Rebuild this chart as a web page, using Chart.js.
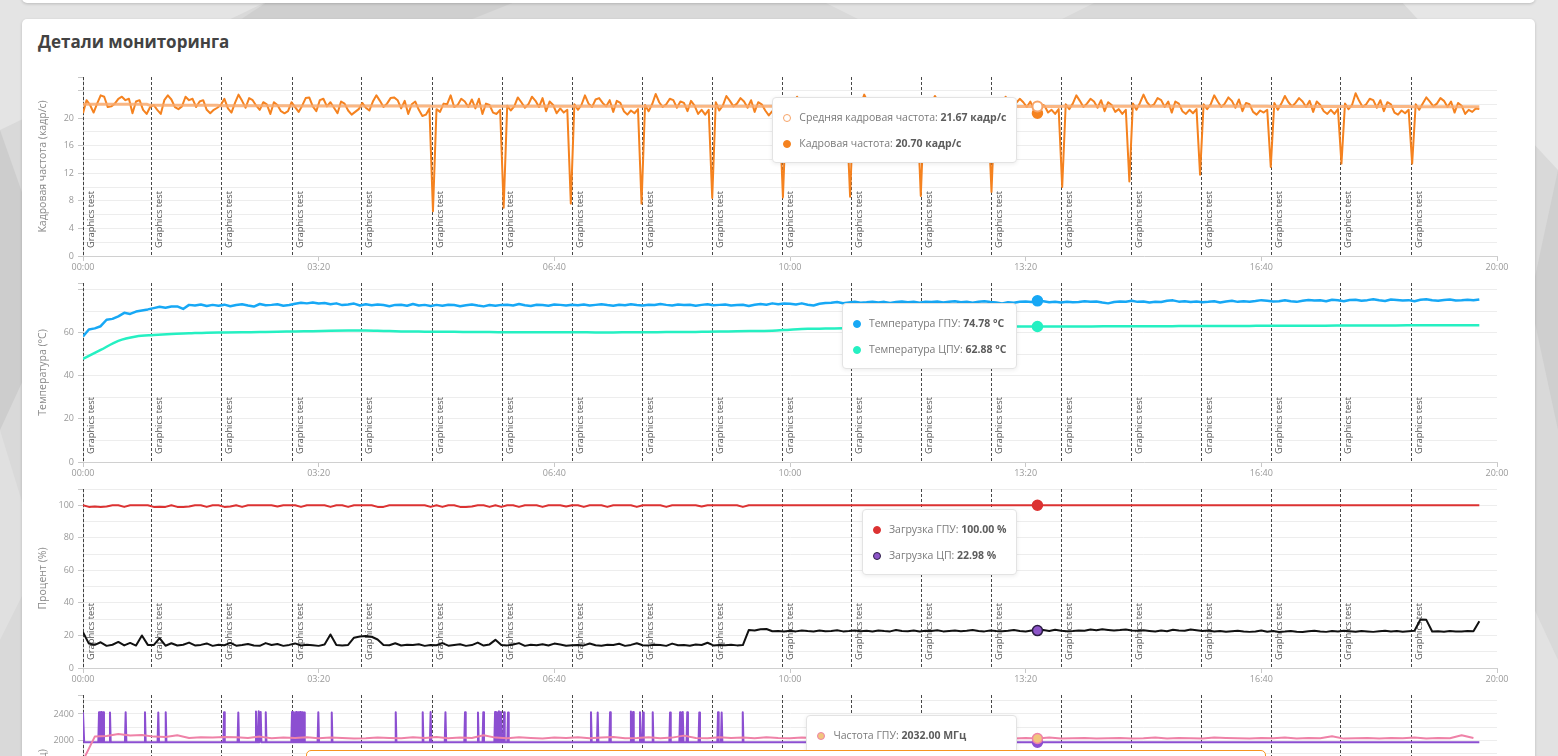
<!DOCTYPE html>
<html lang="ru">
<head>
<meta charset="utf-8">
<title>Детали мониторинга</title>
<script src="https://cdn.jsdelivr.net/npm/chart.js@4.4.1/dist/chart.umd.min.js"></script>
<style>
  html, body { margin: 0; padding: 0; width: 1558px; height: 756px; overflow: hidden; }
  body { position: relative; background: #d9d9d9; font-family: "Open Sans", sans-serif; }
  #bg { position: absolute; left: 0; top: 0; }
  .top-card { position: absolute; left: 22px; top: -20px; width: 1513px; height: 23px; background: #fff;
    border-radius: 0 0 5px 5px; box-shadow: 0 1px 3px rgba(0,0,0,0.18); }
  .card { position: absolute; left: 22px; top: 19px; width: 1513px; height: 900px; background: #fff;
    border-radius: 5px; box-shadow: 0 1px 3px rgba(0,0,0,0.18); }
  .card h2 { position: absolute; left: 16px; top: 11px; margin: 0; font-size: 17px; font-weight: 700; color: #424242; }
  .chart-box { position: absolute; left: 0; width: 1513px; height: 207px; }
  .tip { position: absolute; background: #fff; border: 1px solid #e3e3e3; border-radius: 4px;
    box-shadow: 0 1px 4px rgba(0,0,0,0.08); padding: 6px 10px 6px 10px; font-size: 10.5px; color: #7a7a7a;
    white-space: nowrap; pointer-events: none; }
  .tip .row { height: 26px; line-height: 26px; }
  .tip .dot { display: inline-block; width: 8px; height: 8px; border-radius: 50%; margin-right: 8px;
    vertical-align: -1px; box-sizing: border-box; }
  .tip b { color: #5c5c5c; }
  .notice { position: absolute; left: 306px; top: 750px; width: 958px; height: 40px; background: #fff;
    border: 1px solid #f7931e; border-radius: 5px; }
</style>
</head>
<body>
<svg id="bg" width="1558" height="756">
  <rect width="1558" height="756" fill="#d9d9d9"/>
  <polygon points="0,0 270,0 0,130" fill="#e4e4e4"/>
  <polygon points="270,0 520,0 470,20 240,20" fill="#cfcfcf"/>
  <polygon points="820,0 1100,0 1060,20 860,20" fill="#e2e2e2"/>
  <polygon points="0,130 60,300 0,430" fill="#cdcdcd"/>
  <polygon points="0,430 40,560 0,640" fill="#e0e0e0"/>
  <polygon points="1400,0 1558,0 1558,170" fill="#e6e6e6"/>
  <polygon points="1558,170 1530,300 1558,430" fill="#cfcfcf"/>
  <polygon points="1530,600 1558,660 1558,756 1530,756" fill="#e2e2e2"/>
</svg>
<div class="top-card"></div>
<div class="card">
  <h2>Детали мониторинга</h2>
  <div class="chart-box" style="top:48px"><canvas id="fpsChart"></canvas></div>
  <div class="chart-box" style="top:254px"><canvas id="tempChart"></canvas></div>
  <div class="chart-box" style="top:460px"><canvas id="loadChart"></canvas></div>
  <div class="chart-box" style="top:666px"><canvas id="freqChart"></canvas></div>
</div>
<div class="notice"></div>

<script>
// время в минутах от начала записи, шкала 00:00 - 20:00
const HOVER_MIN = 810;
const xTickMinutes = [0, 200, 400, 600, 800, 1000, 1200];
const xTickLabels = ['00:00', '03:20', '06:40', '10:00', '13:20', '16:40', '20:00'];

// начала прогонов теста
const markerTimes = [0, 58, 117, 177, 236, 296, 356, 415, 474, 534, 593, 652, 711, 771, 830, 889, 949, 1008, 1067, 1127];
const markerLabel = 'Graphics test';

// кадровая частота, шаг 3 мин (одна строка = один прогон)
const FPS_STEP = 3;
const fpsValues = [
  20.7, 22.6, 21.9, 20.8, 22.1, 23.3, 23.1, 21.6, 21.7, 22.1, 22.8, 23.1, 22.6, 22.8, 20.7, 22.4, 22.6, 21.2, 20.6,
  21.6, 21.9, 21.2, 20.6, 22.6, 23.3, 22.7, 21.6, 21.3, 21.7, 23.1, 22.6, 22.8, 21.6, 22.4, 22.6, 21.2, 20.7, 21.2, 21.5,
  21.9, 22.8, 21.4, 20.8, 22.2, 23.4, 22.5, 21.5, 22.9, 22.6, 21.8, 21.2, 22.3, 22.0, 20.6, 22.3, 21.9, 21.0, 20.7, 21.0,
  22.3, 21.6, 20.9, 21.8, 22.9, 23.0, 21.7, 21.0, 22.6, 22.8, 21.7, 22.3, 21.5, 20.7, 22.4, 22.1, 21.1, 20.5, 20.9, 21.3,
  22.2, 21.5, 21.1, 22.4, 23.3, 22.5, 21.6, 22.1, 22.9, 23.0, 22.6, 21.4, 22.5, 20.6, 22.0, 22.4, 21.2, 20.3, 20.5, 21.4,
  6.5, 21.3, 20.9, 22.1, 22.0, 23.3, 21.6, 21.9, 22.8, 22.4, 21.6, 22.7, 21.4, 22.8, 20.6, 22.1, 21.9, 20.8, 20.6, 21.2,
  7.0, 21.8, 21.1, 21.7, 23.0, 22.3, 21.5, 22.0, 23.1, 22.5, 21.6, 22.9, 21.0, 22.4, 21.9, 20.7, 21.4, 20.8, 21.2,
  7.6, 22.0, 21.2, 21.9, 23.3, 22.1, 21.6, 22.7, 22.9, 22.2, 21.7, 22.6, 20.9, 22.5, 22.2, 21.0, 20.5, 21.1, 20.7, 21.3,
  7.6, 21.9, 21.0, 22.0, 23.5, 22.3, 21.6, 22.0, 22.8, 22.6, 21.5, 22.4, 22.2, 21.0, 22.5, 21.8, 20.6, 21.2, 20.5, 21.2,
  8.4, 22.3, 21.1, 21.8, 23.2, 22.5, 21.7, 22.1, 22.9, 22.4, 21.5, 22.6, 20.9, 22.3, 22.0, 21.1, 20.4, 21.0, 20.8, 21.4,
  8.5, 22.1, 21.3, 22.0, 23.1, 22.4, 21.6, 22.2, 22.9, 22.3, 21.6, 22.5, 21.0, 22.4, 21.9, 21.0, 20.6, 21.2, 20.9,
  8.6, 22.2, 21.2, 21.9, 23.4, 22.3, 21.5, 22.1, 22.8, 22.5, 21.6, 22.6, 21.0, 22.3, 21.9, 20.8, 21.3, 20.7, 21.2, 21.4,
  8.7, 22.0, 21.3, 22.1, 23.2, 22.4, 21.6, 22.0, 22.9, 22.4, 21.7, 22.5, 20.9, 22.4, 22.0, 21.0, 20.5, 21.1, 20.7, 21.3,
  9.3, 22.1, 21.2, 21.9, 23.1, 22.4, 21.6, 22.2, 22.8, 22.3, 21.6, 22.4, 21.2, 20.7, 22.0, 21.8, 20.8, 21.2, 20.6, 21.3,
  10.0, 22.0, 21.3, 22.1, 23.3, 22.5, 21.6, 22.1, 22.8, 22.4, 21.5, 22.6, 21.0, 22.3, 21.9, 20.9, 21.3, 20.6, 21.2,
  10.8, 22.1, 21.2, 22.2, 23.4, 22.3, 21.7, 22.0, 22.9, 22.6, 21.6, 22.4, 20.8, 22.4, 22.1, 21.0, 20.6, 21.2, 20.7, 21.3,
  11.8, 22.0, 21.3, 22.0, 23.3, 22.4, 21.6, 22.1, 23.0, 22.5, 21.5, 22.7, 21.0, 22.2, 22.0, 20.9, 20.5, 21.1, 20.8, 21.2,
  12.9, 22.2, 21.2, 22.1, 23.2, 22.3, 21.7, 22.2, 22.9, 22.4, 21.6, 22.5, 20.9, 22.4, 21.9, 21.0, 20.6, 21.2, 20.6, 21.3,
  13.4, 22.1, 21.3, 21.9, 23.6, 22.5, 21.6, 22.0, 22.8, 22.6, 21.5, 22.6, 21.0, 22.3, 22.0, 20.8, 20.5, 21.1, 20.7, 21.2,
  13.4, 22.0, 21.2, 22.1, 23.0, 22.4, 21.7, 22.1, 22.9, 22.5, 21.6, 22.4, 20.8, 22.2, 21.8, 20.6, 21.2, 20.9, 21.4, 21.3
];
// средняя кадровая частота по каждому прогону
const fpsAvgByRun = [22.0, 21.85, 21.8, 21.75, 21.75, 21.7, 21.7, 21.7, 21.7, 21.7,
                     21.7, 21.7, 21.7, 21.67, 21.7, 21.7, 21.7, 21.68, 21.68, 21.65];

// температура ГПУ, шаг 5 мин (строка = час)
const TEMP_GPU_STEP = 5;
const gpuTemp = [
  58.3, 61.5, 62.0, 63.0, 66.0, 66.4, 67.6, 69.2, 68.7, 69.8, 70.3, 70.8,
  71.4, 72.0, 71.6, 72.1, 72.2, 71.0, 72.9, 72.6, 73.1, 72.4, 72.9, 72.5,
  73.0, 72.3, 72.8, 73.2, 72.6, 72.1, 73.3, 72.7, 72.9, 73.2, 72.5, 72.8,
  73.4, 73.9, 73.6, 74.0, 73.5, 73.8, 73.2, 73.6, 72.8, 73.1, 73.5, 72.6,
  73.2, 72.7, 73.1, 72.8, 72.3, 72.9, 73.0, 72.5, 73.3, 72.6, 72.9, 72.4,
  72.9, 72.5, 73.0, 72.8, 72.3, 72.7, 73.1, 72.6, 72.2, 72.8, 72.5, 72.9,
  73.0, 72.6, 73.3, 72.7, 72.4, 73.0, 72.8, 72.5, 73.1, 72.9, 72.6, 73.0,
  72.7, 73.1, 72.6, 72.9, 73.2, 72.8, 72.5, 73.0, 72.7, 73.2, 72.8, 72.6,
  73.0, 72.8, 73.3, 72.9, 72.6, 73.1, 72.8, 73.0, 72.5, 72.9, 73.2, 72.7,
  72.9, 73.1, 72.6, 72.8, 73.0, 72.4, 73.0, 73.3, 73.0, 73.6, 73.2, 73.5,
  73.4, 73.1, 73.6, 73.0, 72.6, 73.4, 73.8, 73.9, 74.2, 73.7, 74.0, 74.3,
  73.9, 74.1, 74.4, 74.0, 74.3, 73.8, 74.2, 74.5, 74.1, 74.3, 73.9, 74.4,
  74.2, 74.5, 74.0, 74.3, 74.6, 74.1, 74.4, 73.9, 74.3, 74.6, 74.2, 74.0,
  73.6, 74.1, 73.9, 74.3, 74.5, 74.2, 74.78, 74.6, 74.1, 74.4, 74.0, 74.3,
  74.1, 74.2, 74.6, 74.3, 74.5, 74.0, 73.6, 74.2, 74.5, 74.4, 74.8, 74.3,
  74.5, 74.0, 74.4, 74.2, 74.8, 75.0, 74.4, 74.6, 74.2, 74.5, 74.1, 74.3,
  74.6, 74.0, 74.5, 74.8, 74.3, 74.6, 74.4, 74.7, 75.1, 74.8, 74.5, 74.6,
  75.0, 74.6, 74.3, 74.8, 75.2, 74.9, 75.0, 74.6, 75.3, 75.0, 74.6, 75.2,
  75.3, 74.8, 75.1, 75.5, 75.0, 74.7, 75.4, 75.2, 74.9, 75.1, 74.6, 75.3,
  75.5, 75.0, 74.8, 75.2, 75.4, 74.9, 75.0, 75.3, 75.0, 75.4
];

// температура ЦПУ, шаг 15 мин
const TEMP_CPU_STEP = 15;
const cpuTemp = [
  47.8, 52.0, 56.2, 58.2, 58.9, 59.4, 59.7, 60.0, 60.1, 60.2, 60.3, 60.4,
  60.6, 60.7, 60.9, 61.0, 61.0, 60.8, 60.6, 60.5, 60.4, 60.4, 60.3, 60.3,
  60.2, 60.2, 60.2, 60.2, 60.2, 60.1, 60.1, 60.2, 60.2, 60.3, 60.3, 60.4,
  60.5, 60.7, 60.8, 60.9, 61.4, 61.8, 61.9, 62.0, 62.1, 62.2, 62.3, 62.4,
  62.5, 62.6, 62.7, 62.75, 62.8, 62.85, 62.88, 62.9, 62.9, 62.9, 62.95, 63.0,
  63.0, 63.0, 63.05, 63.1, 63.1, 63.1, 63.15, 63.2, 63.2, 63.2, 63.25, 63.3,
  63.3, 63.3, 63.35, 63.4, 63.4, 63.4, 63.4, 63.45
];

// загрузка ГПУ и ЦП, шаг 5 мин (строка = час)
const LOAD_STEP = 5;
const gpuLoad = [
  100, 99, 99.2, 99, 99.3, 100, 100, 99, 100, 100, 100, 100,
  99, 99.1, 99, 100, 99, 99, 99.2, 100, 100, 99, 100, 100,
  99, 99.2, 100, 99, 100, 100, 100, 100, 100, 99.2, 100, 100,
  100, 99, 100, 100, 100, 100, 99, 100, 100, 99, 100, 100,
  100, 100, 99, 99, 100, 100, 100, 100, 100, 100, 100, 99,
  100, 99, 100, 100, 99, 99, 99.2, 100, 100, 99, 100, 99,
  100, 100, 99, 100, 100, 100, 99, 100, 100, 100, 99.2, 100,
  100, 99, 100, 100, 100, 99, 100, 100, 100, 100, 99, 100,
  100, 100, 100, 99, 100, 100, 100, 100, 100, 99.2, 100, 100,
  100, 100, 100, 100, 99, 100, 100, 100, 100, 100, 100, 100,
  100, 100, 100, 100, 100, 100, 100, 100, 100, 100, 100, 100,
  100, 100, 100, 100, 100, 100, 100, 100, 100, 100, 100, 100,
  100, 100, 100, 100, 100, 100, 100, 100, 100, 100, 100, 100,
  100, 100, 100, 100, 100, 100, 100, 100, 100, 100, 100, 100,
  100, 100, 100, 100, 100, 100, 100, 100, 100, 100, 100, 100,
  100, 100, 100, 100, 100, 100, 100, 100, 100, 100, 100, 100,
  100, 100, 100, 100, 100, 100, 100, 100, 100, 100, 100, 100,
  100, 100, 100, 100, 100, 100, 100, 100, 100, 100, 100, 100,
  100, 100, 100, 100, 100, 100, 100, 100, 100, 100, 100, 100,
  100, 100, 100, 100, 100, 100, 100, 100, 100, 100
];
const cpuLoad = [
  22.0, 15.0, 14.2, 15.8, 13.6, 14.3, 16.0, 13.9, 15.4, 13.8, 20.0, 14.2,
  14.1, 18.3, 13.7, 15.2, 13.8, 14.3, 15.6, 13.9, 14.2, 15.1, 13.6, 14.3,
  14.0, 15.4, 13.7, 14.2, 14.8, 13.8, 13.6, 15.3, 14.1, 14.7, 13.6, 14.2,
  15.1, 13.8, 14.3, 14.0, 13.6, 14.4, 20.6, 14.1, 13.9, 14.2, 18.6, 19.4,
  19.6, 19.2, 17.5, 14.2, 14.0, 15.2, 13.8, 14.3, 14.1, 14.6, 13.6, 14.2,
  14.0, 15.3, 13.7, 14.2, 14.6, 13.6, 14.1, 15.6, 13.8, 14.5, 17.3, 14.2,
  13.9, 14.4, 15.3, 13.6, 14.3, 14.0, 14.6, 13.8, 15.0, 14.5, 13.7, 14.0,
  14.2, 13.9, 15.1, 14.0, 13.7, 14.3, 14.1, 14.9, 13.6, 14.2, 15.2, 14.0,
  13.9, 14.3, 14.1, 13.6, 15.0, 14.0, 14.2, 13.7, 14.4, 14.1, 15.5, 13.9,
  14.2, 14.0, 14.3, 13.9, 14.1, 23.3, 23.0, 23.8, 24.0, 22.6, 22.8, 22.4,
  22.9, 22.5, 23.1, 22.7, 22.4, 23.0, 22.6, 22.8, 23.2, 22.5, 22.7, 23.0,
  22.6, 22.9, 22.4, 23.1, 22.7, 22.5, 23.3, 22.8, 22.6, 23.0, 22.4, 22.9,
  22.7, 23.2, 22.5, 22.8, 23.0, 22.6, 22.9, 23.3, 22.7, 22.5, 23.1, 22.8,
  22.6, 22.9, 23.4, 22.7, 22.5, 23.0, 22.98, 23.3, 22.8, 23.5, 22.9, 22.6,
  22.8, 23.1, 22.9, 23.6, 23.2, 23.8, 23.4, 23.0, 23.3, 23.7, 23.1, 22.9,
  23.2, 22.8, 22.4, 23.0, 22.6, 23.5, 23.1, 22.9, 23.7, 23.2, 22.7, 23.0,
  22.5, 22.8, 22.3, 22.6, 22.9, 22.4, 22.2, 22.5, 23.0, 22.3, 22.7, 22.1,
  22.4, 22.8, 22.3, 22.1, 22.6, 22.9, 22.4, 22.2, 22.7, 22.5, 22.9, 22.6,
  22.3, 22.8, 22.5, 22.2, 22.6, 22.9, 22.4, 22.7, 22.3, 22.6, 22.9, 29.8,
  29.6, 22.4, 22.6, 22.3, 22.7, 22.5, 22.4, 22.8, 22.6, 28.8
];

// частота ГПУ, шаг 10 мин
const GPU_FREQ_STEP = 10;
const gpuFreq = [
  1700, 2060, 2070, 2100, 2075, 2085, 2060, 2055, 2080, 2040,
  2050, 2045, 2055, 2050, 2040, 2060, 2035, 2045, 2040, 2050,
  2035, 2045, 2040, 2030, 2035, 2045, 2040, 2035, 2050, 2040,
  2055, 2035, 2045, 2040, 2080, 2045, 2035, 2050, 2040, 2030,
  2045, 2040, 2050, 2035, 2045, 2055, 2035, 2040, 2050, 2035,
  2045, 2075, 2040, 2035, 2050, 2040, 2045, 2035, 2050, 2040,
  2035, 2045, 2040, 2030, 2040, 2035, 2045, 2035, 2030, 2040,
  2035, 2045, 2030, 2040, 2035, 2030, 2040, 2035, 2045, 2030,
  2040, 2032, 2045, 2030, 2035, 2040, 2030, 2035, 2040, 2030,
  2035, 2045, 2030, 2040, 2035, 2030, 2045, 2040, 2035, 2030,
  2040, 2035, 2045, 2030, 2040, 2035, 2065, 2030, 2035, 2040,
  2030, 2040, 2035, 2045, 2030, 2040, 2035, 2080, 2040
];

// частота памяти ГПУ: базовый уровень и всплески (мин / МГц)
const memFreqBase = 1975;
const memFreqReadings = [[0, 2425], [1, 1975], [810, 1975], [1185, 1975]];
const memFreqSpikeTimes = [13.6, 15.3, 17.2, 22.9, 36.2, 52.6, 63.9, 70.2, 119.7, 131.8, 146.8, 149.1, 150.8, 155.1,
  177.4, 179.0, 180.8, 182.5, 184.2, 185.9, 187.6, 199.7, 211.1, 265.4, 288.3, 295.0, 307.6, 324.2, 335.2, 339.7,
  349.7, 351.3, 353.0, 354.7, 357.3, 360.7, 431.1, 436.8, 447.3, 465.0, 466.8, 472.7, 475.3, 483.5, 498.2, 506.7,
  509.0, 512.8, 523.0, 538.9, 542.0, 559.9];
const memFreqSpikeValues = [2425, 2430, 2425, 2420, 2425, 2425, 2420, 2425, 2425, 2420, 2435, 2440, 2430, 2425,
  2430, 2425, 2430, 2425, 2430, 2425, 2420, 2425, 2420, 2425, 2425, 2430, 2425, 2425, 2420, 2425,
  2430, 2425, 2440, 2430, 2425, 2420, 2425, 2420, 2425, 2435, 2430, 2425, 2420, 2425, 2420, 2425,
  2430, 2425, 2420, 2425, 2420, 2425];

const FONT = '"Open Sans", sans-serif';
Chart.defaults.font.family = FONT;

function stepSeries(values, step) {
  return values.map((v, i) => ({ x: i * step, y: v }));
}

function fpsAvgSeries() {
  return fpsValues.map((v, i) => {
    const t = i * FPS_STEP;
    let run = 0;
    markerTimes.forEach((m, k) => { if (m <= t + 1.5) run = k; });
    return { x: t, y: fpsAvgByRun[run] };
  });
}

function memFreqSeries() {
  const pts = memFreqReadings.map(([x, y]) => ({ x, y }));
  memFreqSpikeTimes.forEach((t, i) => {
    pts.push({ x: t - 0.6, y: memFreqBase }, { x: t, y: memFreqSpikeValues[i] }, { x: t + 0.6, y: memFreqBase });
  });
  return pts.sort((a, b) => a.x - b.x);
}

// пунктирные линии начала теста и подписи
const markerPlugin = {
  id: 'testMarkers',
  beforeDatasetsDraw(chart) {
    const { ctx, chartArea, scales } = chart;
    ctx.save();
    markerTimes.forEach(t => {
      const px = Math.round(scales.x.getPixelForValue(t)) + 0.5;
      ctx.strokeStyle = 'rgba(40,40,40,0.85)';
      ctx.lineWidth = 1;
      ctx.setLineDash([3, 2]);
      ctx.beginPath();
      ctx.moveTo(px, chartArea.top);
      ctx.lineTo(px, chartArea.bottom);
      ctx.stroke();
      ctx.save();
      ctx.translate(px + 8, chartArea.bottom - 8);
      ctx.rotate(-Math.PI / 2);
      ctx.fillStyle = '#555';
      ctx.font = '9.3px ' + FONT;
      ctx.textBaseline = 'middle';
      ctx.fillText(markerLabel, 0, 0);
      ctx.restore();
    });
    ctx.restore();
  }
};

function externalTooltip(context) {
  const { chart, tooltip } = context;
  const box = chart.canvas.parentNode;
  let el = box.querySelector('.tip');
  if (!el) {
    el = document.createElement('div');
    el.className = 'tip';
    box.appendChild(el);
  }
  if (tooltip.opacity === 0 || !tooltip.dataPoints) {
    el.style.display = 'none';
    return;
  }
  el.style.display = 'block';
  el.innerHTML = tooltip.dataPoints.map(dp => {
    const ds = dp.dataset;
    return '<div class="row"><span class="dot" style="background:' + ds.pointHoverBackgroundColor +
      ';border:1.5px solid ' + ds.pointHoverBorderColor + '"></span>' + ds.label + ': <b>' +
      dp.parsed.y.toFixed(2) + ' ' + ds.tipUnit + '</b></div>';
  }).join('');
  el.style.top = (chart.chartArea.top + 20) + 'px';
  el.style.right = (chart.width - tooltip.caretX + 20) + 'px';
}

function xAxis() {
  return {
    type: 'linear', min: 0, max: 1200,
    afterBuildTicks: scale => { scale.ticks = xTickMinutes.map(v => ({ value: v })); },
    afterFit: scale => { scale.height = 18; },
    ticks: { color: '#999', font: { size: 9 }, padding: 1, maxRotation: 0, autoSkip: false,
      callback: (v, i) => xTickLabels[i] },
    grid: { drawOnChartArea: false, tickLength: 5, tickColor: '#c8c8c8' },
    border: { color: '#d0d0d0' }
  };
}

function yAxis(title, max, minor, major) {
  const isMajor = v => Math.abs(v / major - Math.round(v / major)) < 1e-6;
  const onGrid = v => Math.abs(v / minor - Math.round(v / minor)) < 1e-6;
  return {
    min: 0, max: max,
    afterBuildTicks: scale => {
      const ticks = [];
      for (let v = 0; v < max - 1e-6; v += minor) ticks.push({ value: Math.round(v * 1000) / 1000 });
      ticks.push({ value: max });
      scale.ticks = ticks;
    },
    afterFit: scale => { scale.width = 61; },
    ticks: { color: '#999', font: { size: 9 }, padding: 4, autoSkip: false,
      callback: v => (isMajor(v) && v <= max - minor + 1e-6 ? String(v) : '') },
    grid: {
      color: c => (onGrid(c.tick.value) && c.tick.value > 0 ? '#ededed' : 'rgba(0,0,0,0)'),
      tickColor: c => (isMajor(c.tick.value) || c.tick.value === max ? '#c8c8c8' : 'rgba(0,0,0,0)'),
      tickLength: 5
    },
    border: { color: '#d0d0d0' },
    title: { display: true, text: title, color: '#8a8a8a', font: { size: 10.5 }, padding: { top: 15, bottom: 0 } }
  };
}

function dataMax(datasets) {
  let m = 0;
  datasets.forEach(ds => ds.data.forEach(p => { if (p.y > m) m = p.y; }));
  return m * 1.1;
}

function makeChart(id, datasets, title, minor, major) {
  const max = dataMax(datasets);
  const chart = new Chart(document.getElementById(id), {
    type: 'line',
    data: { datasets: datasets },
    options: {
      animation: false,
      responsive: true,
      maintainAspectRatio: false,
      events: [],
      layout: { padding: { top: 10, right: 38, left: 0, bottom: 0 } },
      elements: {
        point: { radius: 0, hoverRadius: 5, hoverBorderWidth: 1.5 },
        line: { borderJoinStyle: 'round', tension: 0 }
      },
      plugins: {
        legend: { display: false },
        tooltip: { enabled: false, external: externalTooltip }
      },
      scales: { x: xAxis(), y: yAxis(title, max, minor, major) }
    },
    plugins: [markerPlugin]
  });
  const active = chart.data.datasets
    .map((ds, i) => ({ datasetIndex: i, index: ds.data.findIndex(p => p.x === HOVER_MIN) }))
    .filter(a => a.index >= 0);
  chart.setActiveElements(active);
  const pt = chart.getDatasetMeta(active[0].datasetIndex).data[active[0].index];
  chart.tooltip.setActiveElements(active, { x: pt.x, y: pt.y });
  chart.update();
  return chart;
}

makeChart('fpsChart', [
  { label: 'Средняя кадровая частота', tipUnit: 'кадр/с', data: fpsAvgSeries(),
    borderColor: 'rgba(249,170,110,0.85)', borderWidth: 3,
    pointHoverBackgroundColor: '#ffffff', pointHoverBorderColor: '#f7a468', pointHoverBorderWidth: 2 },
  { label: 'Кадровая частота', tipUnit: 'кадр/с', data: stepSeries(fpsValues, FPS_STEP),
    borderColor: '#f5821f', borderWidth: 2,
    pointHoverBackgroundColor: '#f5821f', pointHoverBorderColor: '#f5821f' }
], 'Кадровая частота (кадр/с)', 2, 4);

makeChart('tempChart', [
  { label: 'Температура ГПУ', tipUnit: '°C', data: stepSeries(gpuTemp, TEMP_GPU_STEP),
    borderColor: '#17a8f5', borderWidth: 2.5,
    pointHoverBackgroundColor: '#17a8f5', pointHoverBorderColor: '#17a8f5' },
  { label: 'Температура ЦПУ', tipUnit: '°C', data: stepSeries(cpuTemp, TEMP_CPU_STEP),
    borderColor: '#25f0c2', borderWidth: 2.5, cubicInterpolationMode: 'monotone',
    pointHoverBackgroundColor: '#25f0c2', pointHoverBorderColor: '#25f0c2' }
], 'Температура (°C)', 10, 20);

makeChart('loadChart', [
  { label: 'Загрузка ГПУ', tipUnit: '%', data: stepSeries(gpuLoad, LOAD_STEP),
    borderColor: '#dc3232', borderWidth: 2,
    pointHoverBackgroundColor: '#dc3232', pointHoverBorderColor: '#dc3232' },
  { label: 'Загрузка ЦП', tipUnit: '%', data: stepSeries(cpuLoad, LOAD_STEP),
    borderColor: '#111111', borderWidth: 2,
    pointHoverBackgroundColor: '#8d55c8', pointHoverBorderColor: '#2c1e44' }
], 'Процент (%)', 10, 20);

makeChart('freqChart', [
  { label: 'Частота ГПУ', tipUnit: 'МГц', data: stepSeries(gpuFreq, GPU_FREQ_STEP),
    borderColor: '#ef82a8', borderWidth: 2,
    pointHoverBackgroundColor: '#f1c57d', pointHoverBorderColor: '#ef82a8' },
  { label: 'Частота памяти ГПУ', tipUnit: 'МГц', data: memFreqSeries(),
    borderColor: '#8c4fd1', borderWidth: 2,
    pointHoverBackgroundColor: '#8c4fd1', pointHoverBorderColor: '#8c4fd1' }
], 'Частота (МГц)', 200, 400);
</script>
</body>
</html>
